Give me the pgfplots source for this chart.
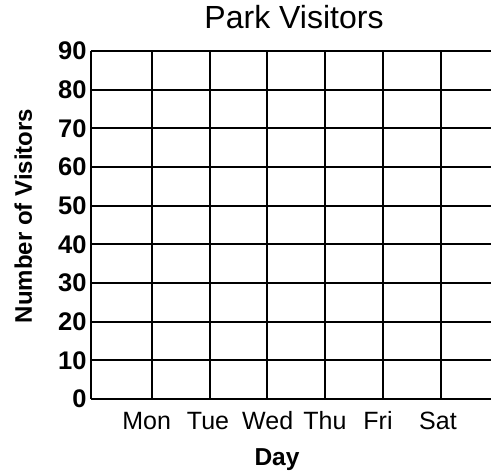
\documentclass[border=0pt]{standalone}
\usepackage{pgfplots}
\pgfplotsset{compat=1.18}
\usepackage{fontspec}
\setmainfont{Liberation Sans}
\begin{document}
\begin{tikzpicture}
\begin{axis}[
    scale only axis,
    width=400pt, height=348pt,
    xmin=91, xmax=491,
    ymin=0, ymax=90,
    axis x line=bottom, axis y line=left,
    axis line style={-, line width=2pt},
    title={Park Visitors},
    title style={font=\fontsize{32}{34}\selectfont, at={(axis description cs:0.5075,1)}, anchor=base, yshift=16pt},
    xlabel={Day},
    xlabel style={font=\bfseries\fontsize{24.5}{26}\selectfont, at={(axis description cs:0.465,0)}, anchor=base, yshift=-67pt},
    ylabel={Number of Visitors},
    ylabel style={font=\bfseries\fontsize{24}{26}\selectfont, at={(axis description cs:-0.169,0.526)}, anchor=center},
    % grid lines sit between the day names
    xtick={152.5,210,267.5,325.5,383.3,440.7},
    xticklabels={},
    extra x ticks={146.7,208,267.7,325,378,438},
    extra x tick labels={Mon,Tue,Wed,Thu,Fri,Sat},
    extra x tick style={grid=none},
    xticklabel style={font=\fontsize{25}{26}\selectfont, text height=18pt, text depth=0pt, yshift=-9pt},
    ytick={0,10,...,90},
    yticklabel style={font=\bfseries\fontsize{25.5}{26}\selectfont, xshift=-1pt},
    /pgf/number format/assume math mode=true,
    xmajorgrids, ymajorgrids,
    grid style={black, line width=2pt},
    major tick length=0pt,
]
\coordinate (sw) at (rel axis cs:0,0);
\coordinate (ne) at (rel axis cs:1,1);
\end{axis}
\pgfresetboundingbox
\path[use as bounding box] ([xshift=-91pt,yshift=-75pt]sw) rectangle ([yshift=51pt]ne);
\end{tikzpicture}
\end{document}
